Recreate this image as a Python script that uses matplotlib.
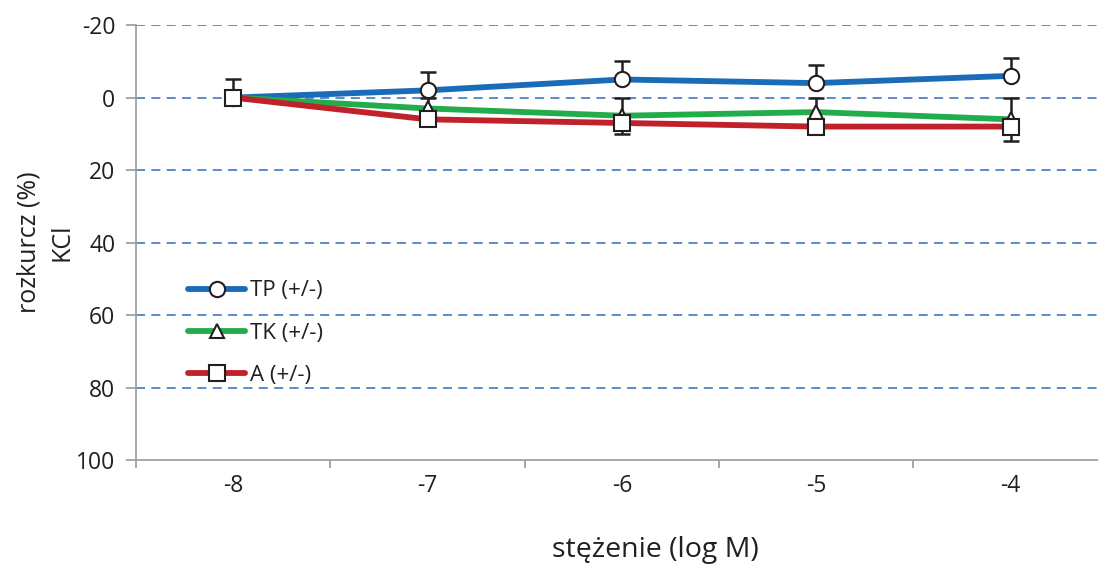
import matplotlib.pyplot as plt
import numpy as np

plt.rcParams['font.family'] = ['Open Sans', 'DejaVu Sans']
plt.rcParams['axes.unicode_minus'] = False

# stężenie (log M)
conc = np.array([-8, -7, -6, -5, -4])

# rozkurcz (%) KCl, mean and one-sided error
tp = np.array([0, -2, -5, -4, -6])
tp_err = np.array([5, 5, 5, 5, 5])
tk = np.array([0, 3, 5, 4, 6])
tk_err = np.array([0, 3, 5, 4, 6])
a = np.array([0, 6, 7, 8, 8])
a_err = np.array([0, 1, 3, 1.5, 4])

labels = ['TP (+/-)', 'TK (+/-)', 'A (+/-)']
colors = ['#1a6bb8', '#22ac4c', '#c1212a']
markers = ['o', '^', 's']

fig = plt.figure(figsize=(10.98, 5.67), dpi=100)
ax = fig.add_axes([0.1239, 0.1887, 0.885, 0.767])

zero = np.zeros(len(conc))
series = [
    (tp, [tp_err, zero]),      # towards negative values (up)
    (tk, [tk_err, zero]),
    (a, [zero, a_err]),        # towards positive values (down)
]

for i, (vals, err) in enumerate(series):
    ax.errorbar(conc, vals, yerr=err, fmt='none', ecolor='#231f20',
                elinewidth=1.8, capsize=6, capthick=1.8, zorder=3 + i)
    ax.plot(conc, vals, color=colors[i], lw=4.2, marker=markers[i],
            markersize=11 if markers[i] != '^' else 10,
            markerfacecolor='white', markeredgecolor='#231f20',
            markeredgewidth=1.5, label=labels[i], zorder=3 + i,
            solid_capstyle='round')

ax.set_xlim(-8.5, -3.5)
ax.set_ylim(100, -20)
ax.set_yticks(np.arange(-20, 101, 20))
ax.set_xticks(conc)
ax.set_xticks(np.arange(-8.5, -3.4, 1), minor=True)
ax.tick_params(axis='x', which='major', length=0, pad=10, labelsize=16.5, colors='#231f20')
ax.tick_params(axis='x', which='minor', length=6, width=1.3, color='#a0a0a0')
ax.tick_params(axis='y', length=7, width=1.3, color='#a0a0a0', pad=8,
               labelsize=16.5, labelcolor='#231f20')

for y in np.arange(-20, 81, 20):
    ax.axhline(y, color='#4f81c7', lw=1.3, ls=(0, (5, 3.5)), zorder=1)

for s in ['top', 'right']:
    ax.spines[s].set_visible(False)
for s in ['left', 'bottom']:
    ax.spines[s].set_color('#a0a0a0')
    ax.spines[s].set_linewidth(1.3)

ax.set_ylabel('rozkurcz (%)\nKCl', fontsize=18, color='#231f20', labelpad=1,
              linespacing=1.45)
fig.text(0.597, 0.018, 'stężenie (log M)', fontsize=20.5, color='#231f20', ha='center')

leg = ax.legend(loc='center left', bbox_to_anchor=(0.0536, 0.292), frameon=False,
                fontsize=16, handlelength=2.57, handletextpad=0.2,
                labelspacing=0.95, borderaxespad=0, borderpad=0)
for t in leg.get_texts():
    t.set_color('#231f20')

fig.savefig('out.png', dpi=100)
